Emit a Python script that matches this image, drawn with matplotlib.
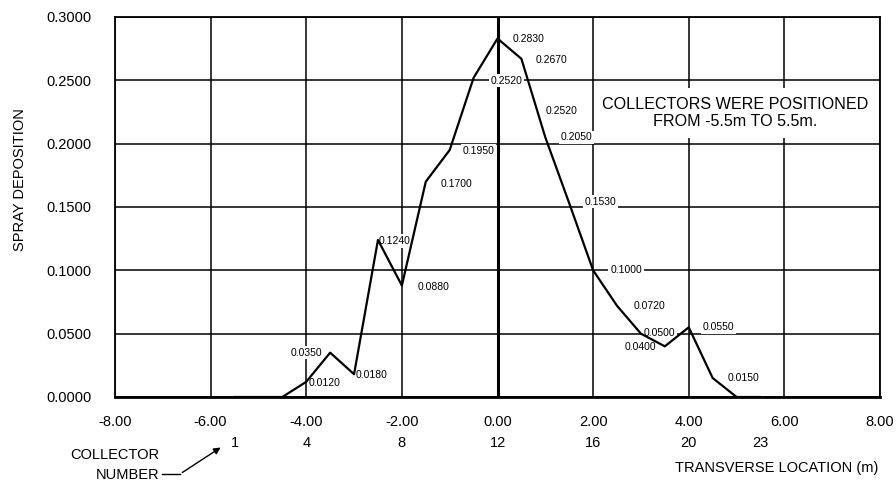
import numpy as np
import matplotlib
matplotlib.use("Agg")
import matplotlib.pyplot as plt
from matplotlib.ticker import FormatStrFormatter
from matplotlib.lines import Line2D

plt.rcParams['font.family'] = ['Liberation Sans', 'DejaVu Sans']

# collector locations (m) and measured spray deposition
location = [-5.5, -5.0, -4.5, -4.0, -3.5, -3.0, -2.5, -2.0, -1.5, -1.0, -0.5, 0.0,
            0.5, 1.0, 1.5, 2.0, 2.5, 3.0, 3.5, 4.0, 4.5, 5.0, 5.5]
deposition = [0.0, 0.0, 0.0, 0.012, 0.035, 0.018, 0.124, 0.088, 0.170, 0.195, 0.252, 0.283,
              0.267, 0.205, 0.153, 0.100, 0.072, 0.050, 0.040, 0.055, 0.015, 0.0, 0.0]

# collector numbers shown under the axis
collector_num = ["1", "4", "8", "12", "16", "20", "23"]
collector_loc = [-5.5, -4.0, -2.0, 0.0, 2.0, 4.0, 5.5]

# label placement for each point (pixel offsets, alignment)
label_offsets = {
    -4.0: (2, -1, 'left'), -3.5: (-8, 0, 'right'), -3.0: (2, -1, 'left'),
    -2.5: (1, -1, 'left'), -2.0: (16, -1, 'left'), -1.5: (15, -2, 'left'),
    -1.0: (13, -1, 'left'), -0.5: (17, -3, 'left'), 0.0: (15, 0, 'left'),
    0.5: (14, -1.5, 'left'), 1.0: (15, 0, 'left'), 1.5: (15, 1.5, 'left'),
    2.0: (17, 0, 'left'), 2.5: (17, 0, 'left'), 3.0: (3, 1, 'left'),
    3.5: (-9, -1, 'right'), 4.0: (14, 0, 'left'), 4.5: (15, 0, 'left'),
}

fig = plt.figure(figsize=(8.96, 4.83), dpi=100)
ax = fig.add_axes([115/896, 1-397/483, 765/896, 380/483])

ax.plot(location, deposition, color='black', lw=1.6, zorder=5)
ax.axvline(0, color='black', lw=2.2, zorder=3)

for x, y in zip(location, deposition):
    if x in label_offsets:
        dx, dy, ha = label_offsets[x]
        ax.annotate(f"{y:.4f}", xy=(x, y), xytext=(dx, dy), textcoords='offset pixels',
                    ha=ha, va='center', fontsize=7.5, zorder=4,
                    bbox=dict(facecolor='white', edgecolor='none', pad=1.2))

# stray label on the original drawing
ax.text(1.35, 0.2258, "0.2520", ha='center', va='center', fontsize=7.5, zorder=4)

ax.text(4.98, 0.2242, "COLLECTORS WERE POSITIONED\nFROM -5.5m TO 5.5m.",
        ha='center', va='center', fontsize=11.6, zorder=4,
        bbox=dict(boxstyle='square,pad=0.55', facecolor='white', edgecolor='none'))

ax.set_xlim(-8, 8)
ax.set_ylim(0, 0.3)
ax.set_xticks(np.arange(-8, 9, 2))
ax.set_yticks(np.arange(0, 0.301, 0.05))
ax.xaxis.set_major_formatter(FormatStrFormatter('%.2f'))
ax.yaxis.set_major_formatter(FormatStrFormatter('%.4f'))
ax.tick_params(length=0, labelsize=10.5)
ax.tick_params(axis='y', pad=17)
ax.tick_params(axis='x', pad=13)
ax.grid(True, color='black', lw=1.1)
ax.set_axisbelow(True)
for s in ax.spines.values():
    s.set_linewidth(1.3)
    s.set_zorder(6)
ax.spines['bottom'].set_linewidth(2.0)

trans = ax.get_xaxis_transform()
for lab, x in zip(collector_num, collector_loc):
    ax.text(x, -0.120, lab, transform=trans, ha='center', va='center', fontsize=10.5)

fig.text(159/896, 1-455/483, "COLLECTOR", ha='right', va='center', fontsize=10.5)
fig.text(159/896, 1-475/483, "NUMBER", ha='right', va='center', fontsize=10.5)
fig.add_artist(Line2D([162/896, 180/896], [1-474/483, 1-474/483], color='black', lw=1))
ax.annotate('', xy=(223/896, 1-446/483), xycoords='figure fraction',
            xytext=(180/896, 1-474/483), textcoords='figure fraction',
            arrowprops=dict(arrowstyle='-|>', color='black', lw=1, mutation_scale=10))

fig.text(878/896, 1-468/483, "TRANSVERSE LOCATION (m)", ha='right', va='center', fontsize=10.5)
fig.text(20/896, 1-180/483, "SPRAY DEPOSITION", rotation=90, ha='center', va='center', fontsize=10.5)

fig.savefig("out.png", dpi=100)
